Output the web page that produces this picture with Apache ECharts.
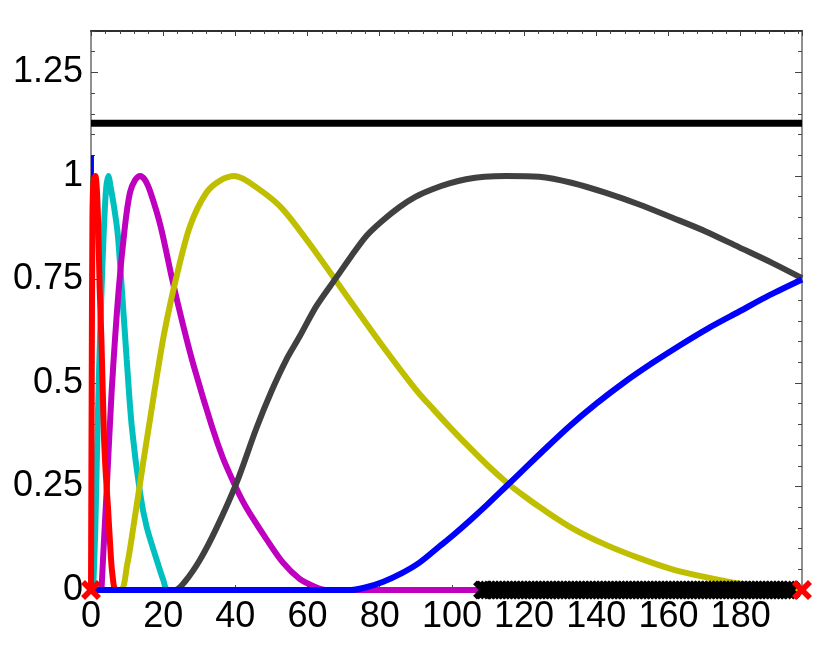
<!DOCTYPE html>
<html>
<head>
<meta charset="utf-8">
<script src="https://cdn.jsdelivr.net/npm/echarts@6/dist/echarts.min.js"></script>
<style>
  html, body { margin: 0; padding: 0; background: #fff; }
  #main { width: 831px; height: 651px; }
</style>
</head>
<body>
<div id="main"></div>
<script>
// axis ranges and ticks
var xMax = 197;
var yMax = 1.35;
var xStep = 20, xMinorStep = 4;
var yStep = 0.25, yMinorStep = 0.05;

// curves, [x, y]
var greenSpike = [[0.3, 0], [0.3, 1.0]];
var blueSpike = [[0.4, 0], [0.4, 1.05]];
var redCurve = [[0, 0], [0.2, 0.5], [0.4, 0.9], [0.7, 0.99], [1.2, 1.0], [1.6, 0.97], [2, 0.88], [2.4, 0.73],
  [2.9, 0.6], [3.6, 0.37], [4.1, 0.28], [4.7, 0.2], [5.3, 0.11], [5.9, 0.04], [6.9, 0], [9, 0]];
var cyanCurve = [[0.6, 0], [1.2, 0.15], [1.6, 0.31], [2.3, 0.55], [2.9, 0.72], [3.6, 0.88], [4.2, 0.97], [4.8, 1.0],
  [5.5, 0.97], [6.3, 0.93], [7.4, 0.86], [8.6, 0.72], [9.9, 0.556], [11.3, 0.395], [13.6, 0.234], [15.4, 0.153],
  [18.2, 0.073], [20, 0.025], [21.4, 0], [197, 0]];
var magentaCurve = [[2.9, 0], [3.6, 0.12], [4.3, 0.234], [5.7, 0.476], [7.6, 0.718], [9.4, 0.878], [10.8, 0.96],
  [12.2, 0.99], [13.6, 1.0], [15, 0.99], [16.5, 0.96], [19.3, 0.878], [22.5, 0.75], [25.5, 0.64], [28.5, 0.54],
  [33.5, 0.395], [36.5, 0.32], [39.4, 0.262], [42, 0.215], [44, 0.185], [48.6, 0.123], [53.2, 0.066],
  [57.8, 0.027], [62, 0.008], [65, 0], [197, 0]];
var yellowCurve = [[0, 0], [8, 0], [10, 0.06], [11.7, 0.15], [14.5, 0.31], [16.5, 0.42], [18.5, 0.53], [20.5, 0.63],
  [23.7, 0.757], [27.4, 0.878], [32, 0.96], [36, 0.99], [39.8, 1.0], [46.7, 0.967], [53.2, 0.919], [62.4, 0.814],
  [71.6, 0.701], [80.9, 0.588], [90, 0.484], [95, 0.435], [100, 0.388], [105, 0.343], [110, 0.3], [115, 0.261],
  [120, 0.227], [125, 0.196], [133.4, 0.149], [142.7, 0.109], [151.9, 0.077], [161.1, 0.05], [170.3, 0.031],
  [180, 0.015], [190, 0.005], [197, 0]];
var grayCurve = [[0, 0], [23.2, 0], [26, 0.02], [30.2, 0.073], [34.8, 0.15], [40.3, 0.258], [45.8, 0.39],
  [50, 0.48], [54.1, 0.556], [57.8, 0.612], [62.4, 0.685], [68, 0.755], [72, 0.805], [76.3, 0.855], [80.5, 0.89],
  [85.5, 0.925], [90, 0.95], [94.6, 0.968], [99.3, 0.982], [103.9, 0.992], [109, 0.998], [115, 1.0],
  [124.2, 0.998], [133.4, 0.983], [142.7, 0.959], [151.9, 0.931], [161.1, 0.899], [170.3, 0.866],
  [179.5, 0.828], [188.7, 0.79], [197, 0.753]];
var blueCurve = [[0, 0], [72, 0], [76, 0.006], [81, 0.02], [86, 0.04], [91, 0.066], [96.5, 0.105], [100, 0.13],
  [105, 0.168], [110, 0.208], [115, 0.25], [120, 0.292], [125, 0.334], [132.5, 0.395], [140, 0.45],
  [147.5, 0.5], [155.5, 0.548], [163, 0.59], [171, 0.632], [179.5, 0.672], [188, 0.712], [197, 0.75]];
var blackLevel = [[0, 1.127], [197, 1.127]];
var blackMarksX = [108.5, 109, 110, 111, 112, 113, 114, 115, 116, 117, 118, 119, 120, 121, 122, 123, 124, 125,
  126, 127, 128, 129, 130, 131, 132, 133, 134, 135, 136, 137, 138, 139, 140, 141, 142, 143, 144, 145, 146, 147,
  148, 149, 150, 151, 152, 153, 154, 155, 156, 157, 158, 159, 160, 161, 162, 163, 164, 165, 166, 167, 168, 169,
  170, 171, 172, 173, 174, 175, 176, 177, 178, 179, 180, 181, 182, 183, 184, 185, 186, 187, 188, 189, 190, 191,
  192, 193, 194];
var redMarks = [[0, 0], [197, 0]];

var crossPath = 'path://M0,2 L2,0 L5,3 L8,0 L10,2 L7,5 L10,8 L8,10 L5,7 L2,10 L0,8 L3,5 Z';
var font = 'Liberation Sans, Arial, sans-serif';

function xAxisDef(grid, pos, step, tickLen, withLabels, lineColor) {
  return {
    type: 'value', gridIndex: grid, position: pos, min: 0, max: xMax, interval: step,
    axisLine: { show: true, onZero: false, lineStyle: { color: lineColor, width: 1.5 } },
    axisTick: { show: true, inside: true, length: tickLen, lineStyle: { color: '#444', width: 1 } },
    axisLabel: { show: withLabels, showMaxLabel: false, fontSize: 36, fontFamily: font, color: '#000', margin: 9 },
    splitLine: { show: false }
  };
}
function yAxisDef(grid, pos, step, tickLen, withLabels, lineColor) {
  return {
    type: 'value', gridIndex: grid, position: pos, min: 0, max: yMax, interval: step,
    axisLine: { show: true, onZero: false, lineStyle: { color: lineColor, width: 1.5 } },
    axisTick: { show: true, inside: true, length: tickLen, lineStyle: { color: '#444', width: 1 } },
    axisLabel: { show: withLabels, showMaxLabel: false, fontSize: 36, fontFamily: font, color: '#000', margin: 8 },
    splitLine: { show: false }
  };
}
function curve(data, color, width) {
  return {
    type: 'line', xAxisIndex: 0, yAxisIndex: 0, data: data, showSymbol: false,
    smooth: 0.3,
    lineStyle: { color: color, width: width }, itemStyle: { color: color }
  };
}

var chart = echarts.init(document.getElementById('main'));
chart.setOption({
  animation: false,
  backgroundColor: '#fff',
  grid: [
    { left: 91, right: 29, top: 31, bottom: 61 },
    { left: 91, right: 29, top: 31, bottom: 61 }
  ],
  xAxis: [
    xAxisDef(0, 'bottom', xStep, 5, true, '#888'),
    xAxisDef(0, 'top', xStep, 5, false, '#222'),
    xAxisDef(1, 'bottom', xMinorStep, 3, false, '#888'),
    xAxisDef(1, 'top', xMinorStep, 3, false, '#222')
  ],
  yAxis: [
    yAxisDef(0, 'left', yStep, 7, true, '#888'),
    yAxisDef(0, 'right', yStep, 7, false, '#888'),
    yAxisDef(1, 'left', yMinorStep, 4, false, '#888'),
    yAxisDef(1, 'right', yMinorStep, 4, false, '#888')
  ],
  series: [
    curve(greenSpike, '#007f00', 3),
    curve(blueSpike, '#0000ff', 3),
    curve(cyanCurve, '#00bfbf', 6),
    curve(magentaCurve, '#bf00bf', 6),
    curve(redCurve, '#ff0000', 6),
    curve(yellowCurve, '#bfbf00', 6),
    curve(grayCurve, '#404040', 6),
    curve(blueCurve, '#0000ff', 6),
    curve(blackLevel, '#000000', 7),
    {
      type: 'scatter', xAxisIndex: 0, yAxisIndex: 0,
      data: blackMarksX.map(function (x) { return [x, 0]; }),
      symbol: crossPath, symbolSize: 19, itemStyle: { color: '#000', opacity: 1 }, z: 5
    },
    {
      type: 'scatter', xAxisIndex: 0, yAxisIndex: 0, data: redMarks, clip: false,
      symbol: crossPath, symbolSize: 20, itemStyle: { color: '#ff0000', opacity: 1 }, z: 6
    }
  ]
});
</script>
</body>
</html>
